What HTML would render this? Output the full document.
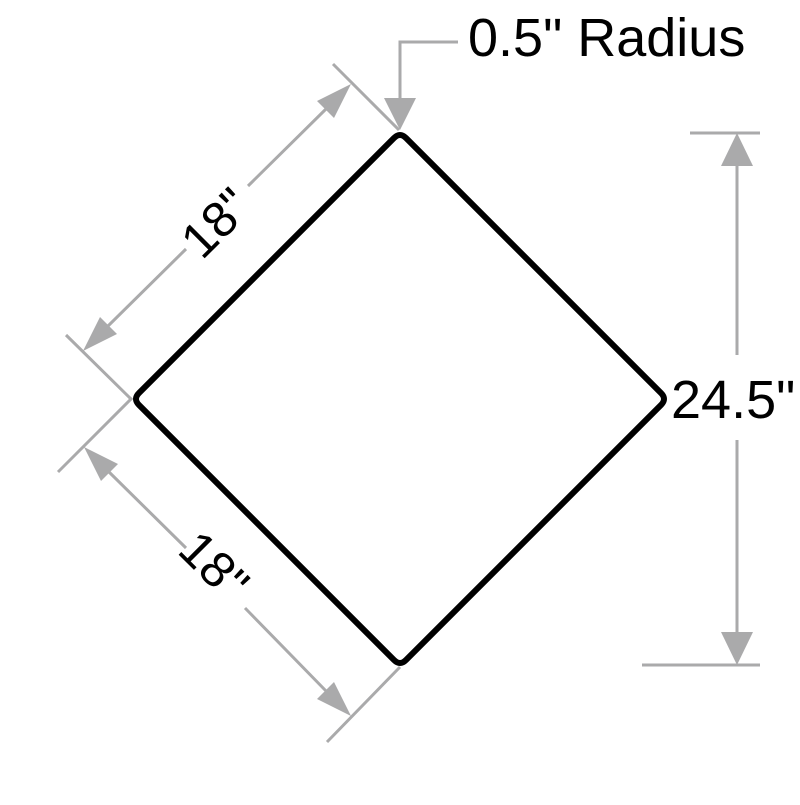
<!DOCTYPE html>
<html><head><style>html,body{margin:0;background:#fff}</style></head><body>
<svg width="800" height="800" viewBox="0 0 800 800" xmlns="http://www.w3.org/2000/svg">
<g stroke="#aaaaab" stroke-width="3" fill="none">
<line x1="333" y1="64" x2="399" y2="130"/>
<line x1="66" y1="335" x2="132" y2="400"/>
<line x1="58" y1="472" x2="132" y2="398"/>
<line x1="400" y1="667" x2="327" y2="742"/>
<line x1="690" y1="133" x2="760" y2="133"/>
<line x1="642" y1="665" x2="760" y2="665"/>
<line x1="737" y1="160" x2="737" y2="355"/>
<line x1="737" y1="440" x2="737" y2="638"/>
<polyline points="458,42 400,42 400,105"/>
<line x1="327" y1="108" x2="248" y2="186"/>
<line x1="186" y1="249" x2="106" y2="328"/>
<line x1="107" y1="470" x2="186" y2="548"/>
<line x1="245" y1="608" x2="327" y2="692"/>
</g>
<g fill="#aaaaab">
<polygon points="400,130 384,98 416,98"/>
<polygon points="737,133 721,166 753,166"/>
<polygon points="737,665 721,632 753,632"/>
<polygon points="351,84 334,118 317,101"/>
<polygon points="83,351 117,334 100,317"/>
<polygon points="84,447 101,481 118,464"/>
<polygon points="351,716 317,699 334,682"/>
</g>
<path d="M394,138 Q400,132 406,138 L661,393 Q667,399 661,405 L406,660 Q400,666 394,660 L139,405 Q133,399 139,393 Z" fill="none" stroke="#000" stroke-width="6" stroke-linejoin="round"/>
<g font-family="Liberation Sans, sans-serif" font-size="54" fill="#000">
<text x="468" y="56">0.5" Radius</text>
<text x="671" y="418">24.5"</text>
</g>
<g font-family="Liberation Sans, sans-serif" font-size="50" fill="#000">
<text x="0" y="0" text-anchor="middle" transform="translate(228,235) rotate(-45)">18"</text>
<text x="0" y="0" text-anchor="middle" transform="translate(202,578) rotate(45)">18"</text>
</g>
</svg>
</body></html>
